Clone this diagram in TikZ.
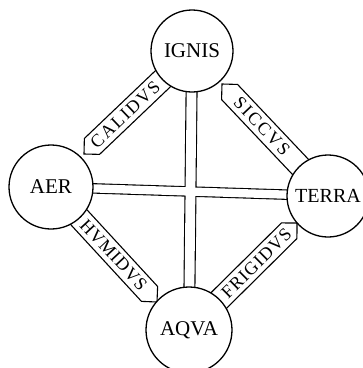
\documentclass[tikz,border=0pt]{standalone}
\usepackage{fontspec}
\setmainfont{Liberation Serif}
\usetikzlibrary{calc}
\pgfdeclarelayer{background}
\pgfsetlayers{background,main}
\newcommand\drawribbon[6]{%
  \path ($(#1)!11pt!(#2)$) coordinate (rs);
  \path ($(rs)!11pt!90:(#2)$) coordinate (rp1);
  \path ($(rs)!11pt!-90:(#2)$) coordinate (rp2);
  \path ($(#2)!11pt!-90:(#1)$) coordinate (re1);
  \path ($(#2)!11pt!90:(#1)$) coordinate (re2);
  \draw[ribbon] (#1) -- (rp1) -- (re1) -- (re2) -- (rp2) -- cycle;
  \node[ribtext, rotate=#5, font=\fontsize{18}{18}\selectfont\addfontfeature{LetterSpace=#6}] at ($(#1)!#4pt!(#2)$) {#3};}
\begin{document}
\begin{tikzpicture}[x=1pt,y=-1pt,
  elem/.style={circle, draw, fill=white, line width=1.3pt, minimum size=#1,
    inner sep=0pt, font=\fontsize{21}{21}\selectfont},
  ribbon/.style={draw, fill=white, line width=1.1pt, line join=miter},
  ribtext/.style={inner sep=0pt}
]
\useasboundingbox (0,0) rectangle (363,368);
\clip (0,0) rectangle (363,368);
\node[elem=82pt] (ignis) at (192,51) {IGNIS};
\node[elem=84pt] (aer) at (51,187) {AER};
\node[elem=82pt, font=\fontsize{20}{20}\selectfont] (terra) at (328,196) {TERRA};
\node[elem=86pt] (aqva) at (189,330) {AQVA};
\coordinate (tC) at (84,154);
\coordinate (tS) at (222,84);
\coordinate (tH) at (157,302);
\coordinate (tF) at (297,223);
\begin{pgfonlayer}{background}
\draw[line width=12pt] (ignis.center) -- (aqva.center);
\draw[line width=10.5pt] (aer.center) -- (terra.center);
\draw[white, line width=9.8pt] (ignis.center) -- (aqva.center);
\draw[white, line width=8.3pt] (aer.center) -- (terra.center);
\drawribbon{tC}{ignis.center}{CALIDVS}{57}{43.6}{10}
\drawribbon{tS}{terra.center}{SICCVS}{58}{-46.6}{11}
\drawribbon{tH}{aer.center}{HVMIDVS}{64}{-47.1}{5}
\drawribbon{tF}{aqva.center}{FRIGIDVS}{57}{44.7}{6}
\end{pgfonlayer}
\end{tikzpicture}
\end{document}
